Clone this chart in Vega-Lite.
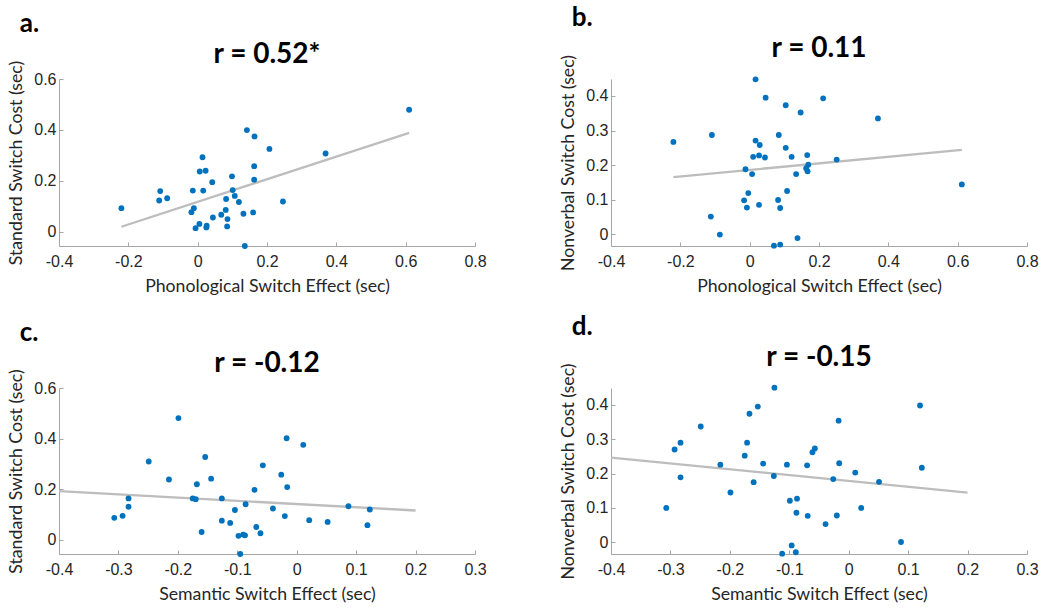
{
  "$schema": "https://vega.github.io/schema/vega-lite/v6.json",
  "background": "white",
  "padding": {"left": 7, "top": 5, "right": 5, "bottom": 2},
  "config": {
    "view": {"stroke": null},
    "axis": {
      "grid": false,
      "domainColor": "#A6A6A6",
      "domainWidth": 1,
      "tickColor": "#A6A6A6",
      "tickSize": -4,
      "labelFont": "Liberation Sans",
      "labelFontSize": 16,
      "labelColor": "#262626",
      "titleFont": "Lato",
      "titleFontSize": 17.7,
      "titleFontWeight": "normal",
      "titleColor": "#262626",
      "labelFlush": false,
      "labelOverlap": false
    },
    "axisX": {"labelPadding": 11, "titlePadding": 8},
    "axisY": {"labelPadding": 7, "titlePadding": 8},
    "title": {"font": "Lato", "fontWeight": "bold", "color": "#000000"}
  },
  "datasets": {
    "a": [
      {"x": -0.220, "y": 0.092}, {"x": -0.108, "y": 0.159}, {"x": -0.111, "y": 0.122}, {"x": -0.088, "y": 0.131},
      {"x": -0.014, "y": 0.161}, {"x": 0.016, "y": 0.161}, {"x": 0.014, "y": 0.292}, {"x": 0.006, "y": 0.236},
      {"x": 0.023, "y": 0.239}, {"x": 0.042, "y": 0.194}, {"x": 0.099, "y": 0.217}, {"x": 0.142, "y": 0.399},
      {"x": 0.164, "y": 0.374}, {"x": 0.207, "y": 0.325}, {"x": 0.369, "y": 0.307}, {"x": 0.610, "y": 0.479},
      {"x": 0.163, "y": 0.257}, {"x": 0.163, "y": 0.204}, {"x": 0.101, "y": 0.163}, {"x": 0.107, "y": 0.140},
      {"x": 0.082, "y": 0.128}, {"x": 0.119, "y": 0.116}, {"x": 0.246, "y": 0.118}, {"x": -0.018, "y": 0.076},
      {"x": -0.011, "y": 0.092}, {"x": 0.081, "y": 0.085}, {"x": 0.068, "y": 0.066}, {"x": 0.044, "y": 0.055},
      {"x": 0.086, "y": 0.049}, {"x": 0.132, "y": 0.070}, {"x": 0.160, "y": 0.075}, {"x": 0.005, "y": 0.030},
      {"x": -0.006, "y": 0.013}, {"x": 0.026, "y": 0.023}, {"x": 0.025, "y": 0.016}, {"x": 0.085, "y": 0.020},
      {"x": 0.136, "y": -0.057}
    ],
    "b": [
      {"x": -0.220, "y": 0.267}, {"x": -0.109, "y": 0.287}, {"x": -0.112, "y": 0.051}, {"x": -0.086, "y": -0.001},
      {"x": -0.016, "y": 0.098}, {"x": -0.012, "y": 0.188}, {"x": -0.008, "y": 0.077}, {"x": -0.004, "y": 0.119},
      {"x": 0.007, "y": 0.174}, {"x": 0.010, "y": 0.224}, {"x": 0.017, "y": 0.448}, {"x": 0.017, "y": 0.271},
      {"x": 0.027, "y": 0.228}, {"x": 0.029, "y": 0.258}, {"x": 0.027, "y": 0.085}, {"x": 0.044, "y": 0.222},
      {"x": 0.046, "y": 0.395}, {"x": 0.070, "y": -0.033}, {"x": 0.084, "y": 0.287}, {"x": 0.082, "y": 0.099},
      {"x": 0.088, "y": 0.076}, {"x": 0.088, "y": -0.030}, {"x": 0.104, "y": 0.373}, {"x": 0.104, "y": 0.250},
      {"x": 0.108, "y": 0.125}, {"x": 0.121, "y": 0.224}, {"x": 0.134, "y": 0.174}, {"x": 0.138, "y": -0.011},
      {"x": 0.147, "y": 0.352}, {"x": 0.166, "y": 0.229}, {"x": 0.169, "y": 0.201}, {"x": 0.163, "y": 0.191},
      {"x": 0.167, "y": 0.182}, {"x": 0.212, "y": 0.393}, {"x": 0.251, "y": 0.216}, {"x": 0.370, "y": 0.335},
      {"x": 0.612, "y": 0.144}
    ],
    "c": [
      {"x": -0.307, "y": 0.086}, {"x": -0.293, "y": 0.094}, {"x": -0.283, "y": 0.163}, {"x": -0.283, "y": 0.130},
      {"x": -0.249, "y": 0.309}, {"x": -0.215, "y": 0.238}, {"x": -0.199, "y": 0.481}, {"x": -0.175, "y": 0.163},
      {"x": -0.170, "y": 0.160}, {"x": -0.168, "y": 0.219}, {"x": -0.160, "y": 0.030}, {"x": -0.154, "y": 0.327},
      {"x": -0.144, "y": 0.241}, {"x": -0.126, "y": 0.163}, {"x": -0.126, "y": 0.075}, {"x": -0.112, "y": 0.066},
      {"x": -0.104, "y": 0.117}, {"x": -0.098, "y": 0.015}, {"x": -0.095, "y": -0.057}, {"x": -0.090, "y": 0.020},
      {"x": -0.087, "y": 0.017}, {"x": -0.086, "y": 0.140}, {"x": -0.071, "y": 0.197}, {"x": -0.068, "y": 0.050},
      {"x": -0.061, "y": 0.025}, {"x": -0.057, "y": 0.294}, {"x": -0.040, "y": 0.123}, {"x": -0.026, "y": 0.257},
      {"x": -0.020, "y": 0.093}, {"x": -0.017, "y": 0.401}, {"x": -0.016, "y": 0.208}, {"x": 0.011, "y": 0.375},
      {"x": 0.021, "y": 0.077}, {"x": 0.052, "y": 0.070}, {"x": 0.087, "y": 0.132}, {"x": 0.119, "y": 0.057},
      {"x": 0.123, "y": 0.119}
    ],
    "d": [
      {"x": -0.307, "y": 0.100}, {"x": -0.293, "y": 0.270}, {"x": -0.283, "y": 0.290}, {"x": -0.283, "y": 0.189},
      {"x": -0.249, "y": 0.337}, {"x": -0.216, "y": 0.226}, {"x": -0.199, "y": 0.145}, {"x": -0.175, "y": 0.252},
      {"x": -0.171, "y": 0.290}, {"x": -0.167, "y": 0.374}, {"x": -0.160, "y": 0.175}, {"x": -0.153, "y": 0.395},
      {"x": -0.144, "y": 0.229}, {"x": -0.126, "y": 0.193}, {"x": -0.125, "y": 0.450}, {"x": -0.112, "y": -0.033},
      {"x": -0.104, "y": 0.226}, {"x": -0.099, "y": 0.121}, {"x": -0.096, "y": -0.009}, {"x": -0.089, "y": -0.029},
      {"x": -0.088, "y": 0.086}, {"x": -0.087, "y": 0.127}, {"x": -0.070, "y": 0.224}, {"x": -0.069, "y": 0.077},
      {"x": -0.061, "y": 0.262}, {"x": -0.057, "y": 0.273}, {"x": -0.039, "y": 0.053}, {"x": -0.026, "y": 0.184},
      {"x": -0.020, "y": 0.078}, {"x": -0.017, "y": 0.354}, {"x": -0.016, "y": 0.230}, {"x": 0.011, "y": 0.203},
      {"x": 0.021, "y": 0.100}, {"x": 0.051, "y": 0.176}, {"x": 0.088, "y": 0.001}, {"x": 0.120, "y": 0.398},
      {"x": 0.123, "y": 0.217}
    ]
  },
  "spacing": 18,
  "vconcat": [
    {
      "spacing": 72,
      "hconcat": [
        {
          "title": {"text": "a.", "anchor": "start", "frame": "bounds", "fontSize": 26, "dx": 12, "offset": 4},
          "vconcat": [
            {
              "width": 416, "height": 167,
              "title": {"text": "r = 0.52*", "fontSize": 28, "offset": -9},
              "layer": [
                {
                  "data": {"name": "a"},
                  "transform": [{"regression": "y", "on": "x"}],
                  "mark": {"type": "line", "color": "#BDBDBD", "strokeWidth": 2.3},
                  "encoding": {
                    "x": {"field": "x", "type": "quantitative"},
                    "y": {"field": "y", "type": "quantitative"}
                  }
                },
                {
                  "data": {"name": "a"},
                  "mark": {"type": "circle", "color": "#0072BD", "opacity": 1, "size": 34},
                  "encoding": {
                    "x": {"field": "x", "type": "quantitative", "title": "Phonological Switch Effect (sec)",
                      "scale": {"domain": [-0.4, 0.8], "nice": false, "zero": false},
                      "axis": {"values": [-0.4, -0.2, 0, 0.2, 0.4, 0.6, 0.8], "labelExpr": "replace(format(datum.value, '~g'), '\u2212', '-')"}},
                    "y": {"field": "y", "type": "quantitative", "title": "Standard Switch Cost (sec)",
                      "scale": {"domain": [-0.057, 0.6], "nice": false, "zero": false},
                      "axis": {"values": [0, 0.2, 0.4, 0.6], "labelExpr": "format(datum.value, '~g')"}}
                  }
                }
              ]
            }
          ]
        },
        {
          "title": {"text": "b.", "anchor": "start", "frame": "bounds", "fontSize": 26, "dx": 12, "offset": 4},
          "vconcat": [
            {
              "width": 416, "height": 167,
              "title": {"text": "r = 0.11", "fontSize": 28, "offset": -9},
              "layer": [
                {
                  "data": {"name": "b"},
                  "transform": [{"regression": "y", "on": "x"}],
                  "mark": {"type": "line", "color": "#BDBDBD", "strokeWidth": 2.3},
                  "encoding": {
                    "x": {"field": "x", "type": "quantitative"},
                    "y": {"field": "y", "type": "quantitative"}
                  }
                },
                {
                  "data": {"name": "b"},
                  "mark": {"type": "circle", "color": "#0072BD", "opacity": 1, "size": 34},
                  "encoding": {
                    "x": {"field": "x", "type": "quantitative", "title": "Phonological Switch Effect (sec)",
                      "scale": {"domain": [-0.4, 0.8], "nice": false, "zero": false},
                      "axis": {"values": [-0.4, -0.2, 0, 0.2, 0.4, 0.6, 0.8], "labelExpr": "replace(format(datum.value, '~g'), '\u2212', '-')"}},
                    "y": {"field": "y", "type": "quantitative", "title": "Nonverbal Switch Cost (sec)",
                      "scale": {"domain": [-0.034, 0.449], "nice": false, "zero": false},
                      "axis": {"values": [0, 0.1, 0.2, 0.3, 0.4], "labelExpr": "format(datum.value, '~g')"}}
                  }
                }
              ]
            }
          ]
        }
      ]
    },
    {
      "spacing": 72,
      "hconcat": [
        {
          "title": {"text": "c.", "anchor": "start", "frame": "bounds", "fontSize": 26, "dx": 12, "offset": 4},
          "vconcat": [
            {
              "width": 416, "height": 166,
              "title": {"text": "r = -0.12", "fontSize": 28, "offset": -9},
              "layer": [
                {
                  "data": {"name": "c"},
                  "transform": [{"regression": "y", "on": "x", "extent": [-0.4, 0.2]}],
                  "mark": {"type": "line", "color": "#BDBDBD", "strokeWidth": 2.3},
                  "encoding": {
                    "x": {"field": "x", "type": "quantitative"},
                    "y": {"field": "y", "type": "quantitative"}
                  }
                },
                {
                  "data": {"name": "c"},
                  "mark": {"type": "circle", "color": "#0072BD", "opacity": 1, "size": 34},
                  "encoding": {
                    "x": {"field": "x", "type": "quantitative", "title": "Semantic Switch Effect (sec)",
                      "scale": {"domain": [-0.4, 0.3], "nice": false, "zero": false},
                      "axis": {"values": [-0.4, -0.3, -0.2, -0.1, 0, 0.1, 0.2, 0.3], "labelExpr": "replace(format(datum.value, '~g'), '\u2212', '-')"}},
                    "y": {"field": "y", "type": "quantitative", "title": "Standard Switch Cost (sec)",
                      "scale": {"domain": [-0.057, 0.6], "nice": false, "zero": false},
                      "axis": {"values": [0, 0.2, 0.4, 0.6], "labelExpr": "format(datum.value, '~g')"}}
                  }
                }
              ]
            }
          ]
        },
        {
          "title": {"text": "d.", "anchor": "start", "frame": "bounds", "fontSize": 26, "dx": 12, "offset": 4},
          "vconcat": [
            {
              "width": 416, "height": 166,
              "title": {"text": "r = -0.15", "fontSize": 28, "offset": -9},
              "layer": [
                {
                  "data": {"name": "d"},
                  "transform": [{"regression": "y", "on": "x", "extent": [-0.4, 0.2]}],
                  "mark": {"type": "line", "color": "#BDBDBD", "strokeWidth": 2.3},
                  "encoding": {
                    "x": {"field": "x", "type": "quantitative"},
                    "y": {"field": "y", "type": "quantitative"}
                  }
                },
                {
                  "data": {"name": "d"},
                  "mark": {"type": "circle", "color": "#0072BD", "opacity": 1, "size": 34},
                  "encoding": {
                    "x": {"field": "x", "type": "quantitative", "title": "Semantic Switch Effect (sec)",
                      "scale": {"domain": [-0.4, 0.3], "nice": false, "zero": false},
                      "axis": {"values": [-0.4, -0.3, -0.2, -0.1, 0, 0.1, 0.2, 0.3], "labelExpr": "replace(format(datum.value, '~g'), '\u2212', '-')"}},
                    "y": {"field": "y", "type": "quantitative", "title": "Nonverbal Switch Cost (sec)",
                      "scale": {"domain": [-0.034, 0.449], "nice": false, "zero": false},
                      "axis": {"values": [0, 0.1, 0.2, 0.3, 0.4], "labelExpr": "format(datum.value, '~g')"}}
                  }
                }
              ]
            }
          ]
        }
      ]
    }
  ]
}
